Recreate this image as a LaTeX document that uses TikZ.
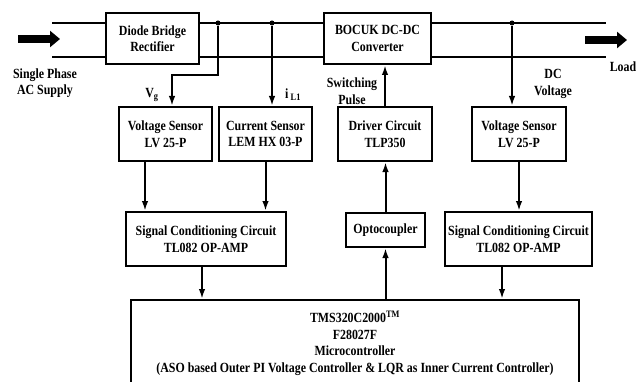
\documentclass[tikz,border=0pt]{standalone}
\usepackage{fontspec}
\setmainfont{Liberation Serif}[FakeStretch=0.85]
\usepackage{tikz}
\usetikzlibrary{positioning,arrows.meta}

\begin{document}
\begin{tikzpicture}[x=1pt, y=-1pt,
        block/.style={rectangle, draw, line width=2pt, fill=white, align=center, inner sep=0pt, font=\fontsize{14}{16.5}\selectfont\bfseries},
        label/.style={align=center, inner sep=0pt, font=\fontsize{14}{16.5}\selectfont\bfseries},
        arrow/.style={-{Latex[length=10pt,width=6.5pt]}, line width=2pt},
        bus/.style={line width=2pt},
        bigarrow/.style={-{Triangle[length=10pt,width=16pt]}, line width=8pt},
        dot/.style={circle, fill, inner sep=0pt, minimum size=5pt}
    ]
    \useasboundingbox (0,0) rectangle (644,382);

    % Power stage
    \node[block, minimum width=93, minimum height=51] (diode) at (152.5,38.5) {Diode Bridge\\Rectifier};
    \node[block, minimum width=107, minimum height=51] (bocuk) at (377.5,38.5) {BOCUK DC-DC\\Converter};
    \coordinate (acT) at (52,23);
    \coordinate (acB) at (52,57);
    \coordinate (ldT) at (606,23);
    \coordinate (ldB) at (606,57);
    \draw[bus] (acT) -- (acT-|diode.west) (acT-|diode.east) -- (acT-|bocuk.west) (acT-|bocuk.east) -- (ldT);
    \draw[bus] (acB) -- (acB-|diode.west) (acB-|diode.east) -- (acB-|bocuk.west) (acB-|bocuk.east) -- (ldB);

    % Source and load
    \coordinate (srcA) at (18,39);
    \coordinate (srcB) at (60,39);
    \coordinate (ldA) at (585,40);
    \coordinate (ldZ) at (627,40);
    \draw[bigarrow] (srcA) -- (srcB);
    \draw[bigarrow] (ldA) -- (ldZ);
    \node[label] (ac) at (45,83) {Single Phase\\AC Supply};
    \node[label] (load) at (623,67) {Load};

    % Junctions
    \foreach \n/\x in {j1/218, j2/272, j3/512} {
        \node[dot] (\n) at (\x,23) {};
    }

    % Sensors and driver
    \node[block, minimum width=93, minimum height=54] (vs1) at (165.5,134) {Voltage Sensor\\LV 25-P};
    \node[block, minimum width=93, minimum height=54] (cs) at (265.5,134) {Current Sensor\\LEM HX 03-P};
    \node[block, minimum width=94, minimum height=54] (drv) at (385,134) {Driver Circuit\\TLP350};
    \node[block, minimum width=94, minimum height=54] (vs2) at (519,134) {Voltage Sensor\\LV 25-P};

    % Conditioning
    \node[block, minimum width=160, minimum height=54] (sc1) at (206,239) {Signal Conditioning Circuit\\TL082 OP-AMP};
    \node[block, minimum width=79, minimum height=34] (opto) at (385.5,230) {Optocoupler};
    \node[block, minimum width=147, minimum height=54] (sc2) at (518.5,239) {Signal Conditioning Circuit\\TL082 OP-AMP};

    % Controller
    \node[block, minimum width=448, minimum height=86, anchor=north] (mcu) at (355,299) {TMS320C2000\textsuperscript{TM}\\F28027F\\Microcontroller\\(ASO based Outer PI Voltage Controller \& LQR as Inner Current Controller)};

    % Signal labels
    \node[label] (vg) at (152,95) {V\textsubscript{g}};
    \node[label] (il) at (293,95) {i\,\textsubscript{L1}};
    \node[label] (sw) at (352,91) {Switching\\Pulse};
    \node[label] (dcv) at (553,84) {DC\\Voltage};

    % Arrows
    \coordinate (vgturn) at (172,75);
    \draw[arrow] (j1) |- (vgturn) -- (vgturn|-vs1.north);
    \draw[arrow] (j2) -- (j2|-cs.north);
    \draw[arrow] (j3) -- (j3|-vs2.north);
    \draw[arrow] ([xshift=-20.5pt]vs1.south) -- ([xshift=-20.5pt]vs1.south|-sc1.north);
    \draw[arrow] (cs.south) -- (cs.south|-sc1.north);
    \draw[arrow] (vs2.south) -- (vs2.south|-sc2.north);
    \draw[arrow] ([xshift=-4pt]sc1.south) -- ([xshift=-4pt]sc1.south|-mcu.north);
    \draw[arrow] ([xshift=-16.5pt]sc2.south) -- ([xshift=-16.5pt]sc2.south|-mcu.north);
    \draw[arrow] (mcu.north-|opto.south) -- (opto.south);
    \draw[arrow] (opto.north) -- (opto.north|-drv.south);
    \draw[arrow] (drv.north) -- (drv.north|-bocuk.south);
\end{tikzpicture}
\end{document}
